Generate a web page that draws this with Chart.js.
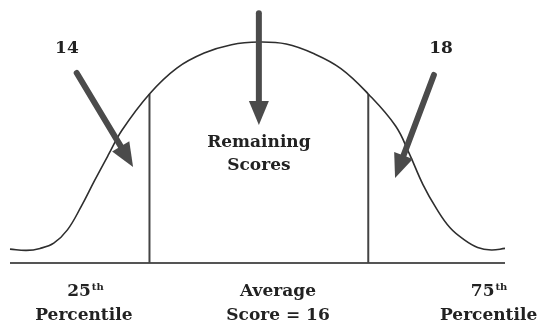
<!DOCTYPE html>
<html>
<head>
<meta charset="utf-8">
<script src="https://cdn.jsdelivr.net/npm/chart.js@4.4.0/dist/chart.umd.min.js"></script>
<style>
  body { margin: 0; background: #fff; }
  canvas { display: block; }
</style>
</head>
<body>
<canvas id="curva" width="541" height="325"></canvas>
<script>
// scores along the x axis and height of the bell curve (peak = 100)
var scores = [11.45, 11.75, 12, 12.25, 12.5, 12.75, 13, 13.25, 13.5, 14, 14.5, 15, 15.5, 16,
              16.5, 17, 17.5, 18, 18.5, 18.75, 19, 19.25, 19.5, 19.75, 20, 20.25, 20.5];
var heights = [6.3, 5.7, 6.6, 9.0, 15.0, 25.5, 37.5, 49.0, 60.2, 76.5, 88.2, 95.0, 98.8, 100,
               99.1, 94.8, 88.0, 76.5, 62.0, 49.5, 35.5, 24.5, 15.8, 10.6, 7.0, 5.9, 6.6];

// percentile lines
var percentileScores = [14, 18];
var percentileTops = [76.5, 76.5];

// arrows: start and tip, in score / height units
var arrowFrom = [[12.67, 86.0], [16, 113.0], [19.20, 85.1]];
var arrowTo = [[13.70, 43.5], [16, 62.4], [18.49, 38.5]];

var topLabels = ["14", "18"];
var topLabelScores = [12.49, 19.33];

var ctx = document.getElementById('curva').getContext('2d');

var ink = '#2e2e2e';
var serif = "'DejaVu Serif', 'Liberation Serif', serif";

var linePlugin = {
    id: 'anotacoes',
    afterDatasetsDraw: function(chart) {
        var c = chart.ctx;
        var x = chart.scales.x, y = chart.scales.y;
        var area = chart.chartArea;
        c.save();

        // arrows
        c.fillStyle = '#4b4b4b';
        c.strokeStyle = '#4b4b4b';
        for (var i = 0; i < arrowFrom.length; i++) {
            var x0 = x.getPixelForValue(arrowFrom[i][0]), y0 = y.getPixelForValue(arrowFrom[i][1]);
            var x1 = x.getPixelForValue(arrowTo[i][0]), y1 = y.getPixelForValue(arrowTo[i][1]);
            var dx = x1 - x0, dy = y1 - y0, len = Math.sqrt(dx * dx + dy * dy);
            var ux = dx / len, uy = dy / len;
            var head = 24, half = 10;
            var bx = x1 - ux * head, by = y1 - uy * head;
            c.lineWidth = 6;
            c.lineCap = 'round';
            c.beginPath();
            c.moveTo(x0, y0);
            c.lineTo(bx + ux, by + uy);
            c.stroke();
            c.beginPath();
            c.moveTo(x1, y1);
            c.lineTo(bx - uy * half, by + ux * half);
            c.lineTo(bx + uy * half, by - ux * half);
            c.closePath();
            c.fill();
        }

        // text
        c.fillStyle = '#222';
        c.textAlign = 'center';
        c.textBaseline = 'alphabetic';
        c.font = 'bold 17px ' + serif;
        for (var j = 0; j < topLabels.length; j++) {
            c.fillText(topLabels[j], x.getPixelForValue(topLabelScores[j]), area.top + 43);
        }
        var mid = x.getPixelForValue(16);
        c.fillText('Remaining', mid, area.top + 137);
        c.fillText('Scores', mid, area.top + 160);

        var b = area.bottom;
        function withSup(num, sup, cx, base) {
            c.font = 'bold 17px ' + serif;
            var w1 = c.measureText(num).width;
            c.font = 'bold 10px ' + serif;
            var w2 = c.measureText(sup).width;
            var left = cx - (w1 + w2) / 2;
            c.textAlign = 'left';
            c.font = 'bold 17px ' + serif;
            c.fillText(num, left, base);
            c.font = 'bold 10px ' + serif;
            c.fillText(sup, left + w1 + 1, base - 6);
            c.textAlign = 'center';
            c.font = 'bold 17px ' + serif;
        }
        withSup('25', 'th', x.getPixelForValue(12.82), b + 33);
        c.fillText('Percentile', x.getPixelForValue(12.80), b + 57);
        c.fillText('Average', x.getPixelForValue(16.35), b + 33);
        c.fillText('Score = 16', x.getPixelForValue(16.35), b + 57);
        withSup('75', 'th', x.getPixelForValue(20.2), b + 33);
        c.fillText('Percentile', x.getPixelForValue(20.2), b + 57);

        c.restore();
    }
};

var chart = new Chart(ctx, {
    type: 'scatter',
    data: {
        datasets: [{
            label: 'Curva',
            data: scores.map(function(s, i) { return {x: s, y: heights[i]}; }),
            showLine: true,
            borderColor: ink,
            borderWidth: 1.6,
            pointRadius: 0,
            tension: 0.4,
            clip: false
        }, {
            label: '25',
            data: [{x: percentileScores[0], y: 0}, {x: percentileScores[0], y: percentileTops[0]}],
            showLine: true,
            borderColor: '#444',
            borderWidth: 2,
            pointRadius: 0,
            clip: false
        }, {
            label: '75',
            data: [{x: percentileScores[1], y: 0}, {x: percentileScores[1], y: percentileTops[1]}],
            showLine: true,
            borderColor: '#444',
            borderWidth: 2,
            pointRadius: 0,
            clip: false
        }, {
            label: 'Base',
            data: [{x: scores[0], y: 0}, {x: scores[scores.length - 1], y: 0}],
            showLine: true,
            borderColor: '#555',
            borderWidth: 2,
            pointRadius: 0,
            clip: false
        }]
    },
    options: {
        responsive: false,
        animation: false,
        devicePixelRatio: 1,
        layout: { padding: { left: 10, right: 36, top: 10, bottom: 62 } },
        plugins: { legend: { display: false }, tooltip: { enabled: false } },
        scales: {
            x: { type: 'linear', min: 11.45, max: 20.5, display: false },
            y: { min: 0, max: 114.5, display: false }
        }
    },
    plugins: [linePlugin]
});
</script>
</body>
</html>
